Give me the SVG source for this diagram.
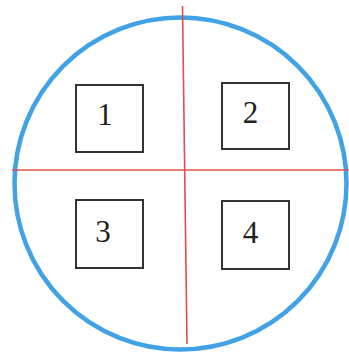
<svg xmlns="http://www.w3.org/2000/svg" width="349" height="354" viewBox="0 0 349 354">
<style>
.box{fill:#fff;stroke:#333;stroke-width:2}
.lbl{font-family:"Liberation Serif",serif;font-size:31px;fill:#222;text-anchor:middle}
.axis{stroke:#e0504a;stroke-width:1.6;fill:none}
</style>
<rect width="349" height="354" fill="#fff"/>
<circle id="outline" cx="180.5" cy="183.5" r="166" fill="none" stroke="#42a2e6" stroke-width="4.5"/>
<g id="connectors">
<line class="axis" x1="182.5" y1="6" x2="187" y2="344"/>
<line class="axis" x1="12" y1="170" x2="349" y2="170"/>
</g>
<g id="n1"><rect class="box" x="76" y="85" width="67" height="67"/><text class="lbl" x="105" y="125">1</text></g>
<g id="n2"><rect class="box" x="222" y="83" width="67" height="66"/><text class="lbl" x="250.5" y="123">2</text></g>
<g id="n3"><rect class="box" x="76" y="200" width="67" height="68"/><text class="lbl" x="103" y="242">3</text></g>
<g id="n4"><rect class="box" x="222" y="201" width="67" height="68"/><text class="lbl" x="250.5" y="243">4</text></g>
</svg>
